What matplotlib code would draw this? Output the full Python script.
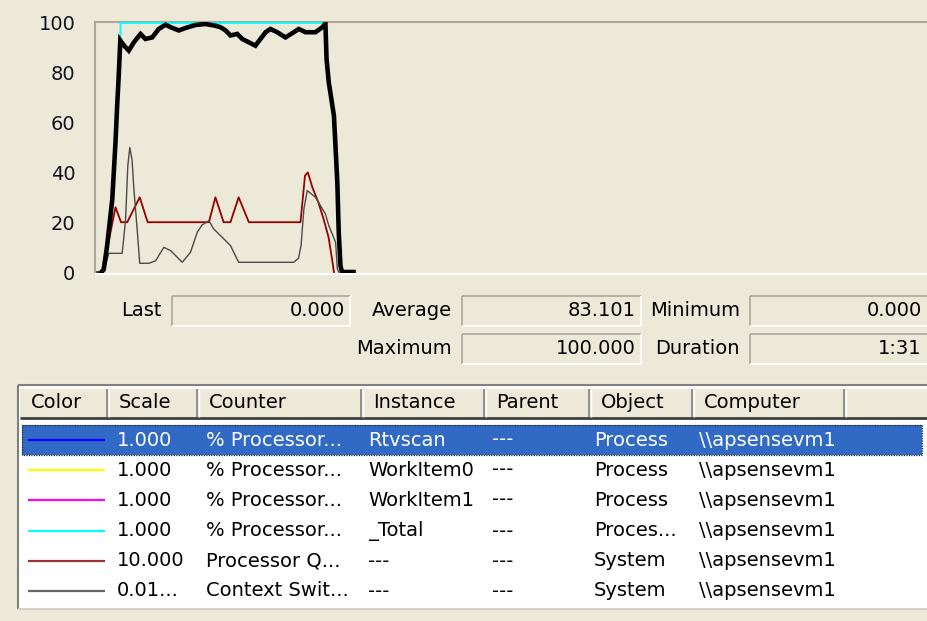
import matplotlib
matplotlib.use("Agg")
import matplotlib.pyplot as plt
from matplotlib.patches import Rectangle

W, H = 927, 621
BG = '#ECE9D8'
FONT = 'DejaVu Sans'
FS = 14

# ---------------- data (time in seconds, value in % of graph scale) ----------------
rtv_t = [2.1, 2.9, 4.1, 5.9, 7.05, 7.65, 8.2, 8.75, 10.0, 11.75, 13.5, 15.9, 17.6, 20.0,
         22.3, 24.7, 26.5, 29.4, 31.75, 35.3, 38.8, 42.3, 44.1, 45.9, 47.6, 50.0, 51.75,
         56.4, 60.0, 61.7, 64.1, 67.0, 69.95, 71.7, 74.1, 77.6, 80.0, 81.1, 81.5, 82.3,
         84.1, 84.7, 85.3, 85.8, 86.4, 86.95, 91.0]
rtv_v = [0, 1, 10.6, 29, 52, 67, 79, 93, 91, 88.9, 92.2, 95.6, 93.6, 94.2,
         97.6, 99.3, 98.3, 97, 98, 99.2, 99.6, 98.9, 98.3, 97, 95, 95.6, 93.6,
         90.9, 96.3, 97.6, 96.3, 94.2, 96.3, 97.6, 96.3, 96.3, 98.3, 99.8, 85.5, 76,
         62.8, 49.4, 36, 16, 2.5, 0, 0]

total_t = [2.1, 4.1, 5.9, 7.05, 7.65, 8.2, 8.8, 8.8, 81.1, 81.5, 82.3, 84.1, 84.7,
           85.3, 85.8, 86.4, 86.95]
total_v = [0, 10.6, 29, 52, 67, 79, 92, 100, 100, 85.5, 76, 62.8, 49.4,
           36, 16, 2.5, 0]

queue_t = [0, 2.5, 7.05, 9.0, 11.2, 15.6, 18.4, 40.0, 42.3, 45.2, 47.6, 50.5, 54.1,
           72.3, 73.9, 74.9, 76.5, 78.6, 80.4, 82.2, 83.6, 84.1]
queue_v = [0, 0, 26, 20, 20, 30, 20, 20, 30, 20, 20, 30, 20,
           20, 38.7, 40, 34, 28, 21.5, 14, 4, 0]

ctx_t = [0, 2.8, 4.7, 9.4, 10.0, 10.6, 11.4, 12.1, 12.9, 13.5, 14.7, 15.6, 18.8, 21.2,
         24.1, 26.5, 30.6, 33.5, 35.9, 37.6, 40.0, 41.7, 46.5, 47.6, 50.5, 69.9, 71.6,
         72.5, 73.5, 74.7, 77.6, 81.1, 82.3, 83.5, 84.7, 85.3, 85.8]
ctx_v = [0, 0, 7.5, 7.5, 14, 21, 42.7, 50, 45, 34, 17, 3.5, 3.5, 4.5,
         9.9, 8.6, 3.9, 7.9, 16, 18.9, 20.6, 17.3, 11.9, 10.6, 3.9, 3.9, 5.5,
         10.6, 25.3, 32.7, 30, 23.3, 18.6, 15.3, 11.9, 1.2, 0]

y_ticks = [0, 20, 40, 60, 80, 100]

stat_labels = ['Last', 'Average', 'Minimum', 'Maximum', 'Duration']
stat_values = ['0.000', '83.101', '0.000', '100.000', '1:31']

columns = ['Color', 'Scale', 'Counter', 'Instance', 'Parent', 'Object', 'Computer', '']
row_colors = ['#0000FF', '#FFFF00', '#FF00FF', '#00FFFF', '#993333', '#666666']
row_scale = ['1.000', '1.000', '1.000', '1.000', '10.000', '0.01...']
row_counter = ['% Processor...', '% Processor...', '% Processor...', '% Processor...',
               'Processor Q...', 'Context Swit...']
row_instance = ['Rtvscan', 'WorkItem0', 'WorkItem1', '_Total', '---', '---']
row_parent = ['---'] * 6
row_object = ['Process', 'Process', 'Process', 'Proces...', 'System', 'System']
row_computer = ['\\\\apsensevm1'] * 6

# ---------------- figure ----------------
fig = plt.figure(figsize=(W / 100, H / 100), dpi=100, facecolor=BG)
ov = fig.add_axes([0, 0, 1, 1], zorder=0)
ov.set_xlim(0, W)
ov.set_ylim(H, 0)
ov.axis('off')
ov.patch.set_alpha(0)


def hline(x0, x1, y, c, lw=1.0, z=2, ls='-'):
    ov.plot([x0, x1], [y, y], color=c, lw=lw, zorder=z, solid_capstyle='butt', ls=ls)


def vline(x, y0, y1, c, lw=1.0, z=2, ls='-'):
    ov.plot([x, x], [y0, y1], color=c, lw=lw, zorder=z, solid_capstyle='butt', ls=ls)


def txt(x, y, s, ha='left', color='black'):
    ov.text(x, y, s, ha=ha, va='center', fontsize=FS, family=FONT, color=color, zorder=5)


# graph frame (sunken)
vline(95, 21, 273, '#ACA899', lw=1.5)
hline(95, W, 21.5, '#ACA899', lw=1.5)
hline(95, W, 273.5, '#FFFFFF', lw=1.5)

# graph axes
t_per_px = 1 / 2.835
ax = fig.add_axes([95.5 / W, 1 - 273 / H, (W - 95.5) / W, (273 - 22) / H], zorder=3)
ax.patch.set_alpha(0)
ax.set_xlim(0, (W - 95.5) * t_per_px)
ax.set_ylim(-0.4, 100.4)
for s in ax.spines.values():
    s.set_visible(False)
ax.set_xticks([])
ax.set_yticks(y_ticks)
ax.set_yticklabels([str(v) for v in y_ticks], fontsize=FS, family=FONT, color='#111122')
ax.tick_params(axis='y', length=0, pad=14.5)

ax.plot(total_t, total_v, color='#00FFFF', lw=1.3, zorder=2)
ax.plot(queue_t, queue_v, color='#990000', lw=1.3, zorder=3)
ax.plot(ctx_t, ctx_v, color='#4A4A4A', lw=1.0, zorder=4)
ax.plot(rtv_t, rtv_v, color='black', lw=3.3, zorder=5, solid_joinstyle='miter')

# statistics boxes
boxes = [(172, 350, 296, 326), (462, 641, 296, 326), (750, 935, 296, 326),
         (462, 641, 334, 364), (750, 935, 334, 364)]
for (x0, x1, y0, y1), lab, val in zip(boxes, stat_labels, stat_values):
    ov.add_patch(Rectangle((x0, y0), x1 - x0, y1 - y0, facecolor=BG, edgecolor='none', zorder=1))
    hline(x0, x1, y0, '#ACA899', lw=1.2)
    vline(x0, y0, y1, '#ACA899', lw=1.2)
    hline(x0, x1, y1, '#FFFFFF', lw=1.2)
    vline(x1, y0, y1, '#FFFFFF', lw=1.2)
    txt(x0 - 10, (y0 + y1) / 2, lab, ha='right')
    txt(min(x1, W) - 5, (y0 + y1) / 2, val, ha='right')

# list view
LX0, LX1, LY0, LY1 = 18, 935, 385, 609
ov.add_patch(Rectangle((LX0, LY0), LX1 - LX0, LY1 - LY0, facecolor='white',
                       edgecolor='none', zorder=1))
hline(LX0, LX1, LY0, '#7F7F7F', lw=1.5)
vline(LX0, LY0, LY1, '#7F7F7F', lw=1.5)
hline(LX0, LX1, LY1, '#D4D0C8', lw=1.5)

col_edges = [20, 108, 198, 362, 485, 590, 693, 845, 935]
HY0, HY1 = 387, 419
ov.add_patch(Rectangle((20, HY0), LX1 - 20, HY1 - HY0, facecolor=BG, edgecolor='none', zorder=1))
hline(20, LX1, HY0 + 1, '#FFFFFF', lw=1.2)
hline(20, LX1, HY1 - 1, '#404040', lw=2.0)
for i, name in enumerate(columns):
    x0, x1 = col_edges[i], col_edges[i + 1]
    if i > 0:
        vline(x0 + 1, HY0 + 2, HY1 - 2, '#FFFFFF', lw=1.0)
    vline(x1 - 1, HY0 + 2, HY1 - 2, '#808080', lw=1.2)
    if name:
        txt(x0 + 11, (HY0 + HY1) / 2, name)

row_y = [440, 470, 500, 531, 561, 591]
# selection
ov.add_patch(Rectangle((22, 425), 900, 30, facecolor='#316AC5', edgecolor='none', zorder=1.5))
ov.add_patch(Rectangle((22, 425), 900, 30, facecolor='none', edgecolor='#2A2A2A',
                       lw=0.9, ls=(0, (1, 1)), zorder=1.6))
text_x = [117, 206, 368, 492, 594, 699]
for r, y in enumerate(row_y):
    col = 'white' if r == 0 else 'black'
    hline(28, 105, y, row_colors[r], lw=1.6, z=3)
    for x, s in zip(text_x, [row_scale[r], row_counter[r], row_instance[r],
                             row_parent[r], row_object[r], row_computer[r]]):
        txt(x, y, s, color=col)

fig.savefig('out.png', dpi=100, facecolor=BG)
